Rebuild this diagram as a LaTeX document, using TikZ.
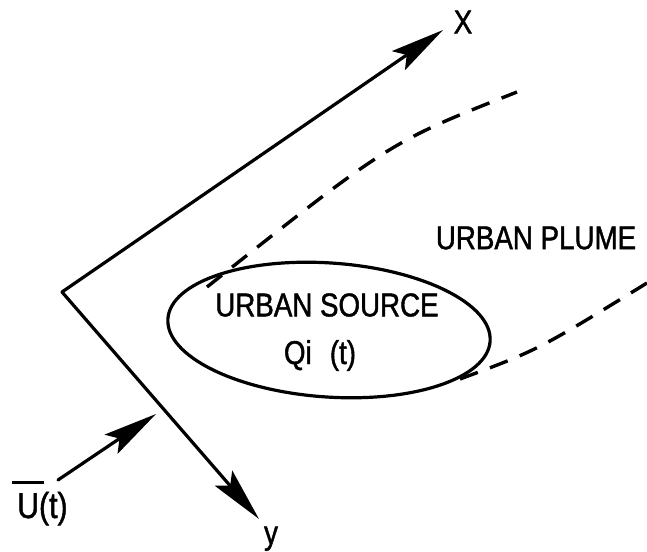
\documentclass[tikz,border=0pt]{standalone}
\usepackage{fontspec}
\setmainfont{Liberation Sans}
\newfontfamily\lblfont[FakeStretch=0.84,FakeBold=1.3]{Liberation Sans}
\usetikzlibrary{shapes.geometric,arrows.meta}
\begin{document}
\begin{tikzpicture}[x=1pt,y=-1pt,
  axis/.style={line width=3.2pt, line cap=round, -{Stealth[length=54pt 0,width=23pt 0,inset=10pt 0]}},
  plume/.style={line width=3.4pt, dash pattern=on 19pt off 13pt},
  lbl/.style={font=\lblfont\fontsize{33}{38}\selectfont, inner sep=0pt},
  ulbl/.style={font=\lblfont\fontsize{36}{40}\selectfont, inner sep=0pt},
  ]
\useasboundingbox (0,0) rectangle (647,551);

% axes
\coordinate (O) at (62,292);
\coordinate (Xend) at (443,30);
\coordinate (Yend) at (259,519);
\draw[axis] (O) -- (Xend);
\draw[axis] (O) -- (Yend);

% wind arrow
\coordinate (Ustart) at (58,480);
\coordinate (Uend) at (156,414);
\draw[axis] (Ustart) -- (Uend);

% urban source
\node[draw, line width=3.2pt, ellipse, minimum width=323pt, minimum height=134pt,
      rotate=-4, inner sep=0pt] (src) at (329,330) {};
\node[lbl] (srcname) at (327,305) {URBAN SOURCE};
\node[lbl, anchor=base] (q) at (320,364) {Qi\hspace{0.55em}(t)};

% plume edges
\coordinate (p1s) at (207,287);
\coordinate (p1e) at (517,92);
\draw[plume] (p1s) .. controls (390,142) .. (p1e);
\coordinate (p2s) at (460,379);
\coordinate (p2e) at (647,283);
\draw[plume] (p2s) .. controls (538,350) .. (p2e);

% labels
\node[lbl] (plume) at (536,238) {URBAN PLUME};
\node[lbl] (xl) at (463,22) {X};
\node[lbl, anchor=base] (yl) at (271,544) {y};
\node[ulbl, anchor=base west] (ul) at (17,518)
  {\makebox[0pt][l]{\hspace{-0.15em}\raisebox{0.95em}{\rule{0.9em}{3pt}}}U(t)};
\end{tikzpicture}
\end{document}
